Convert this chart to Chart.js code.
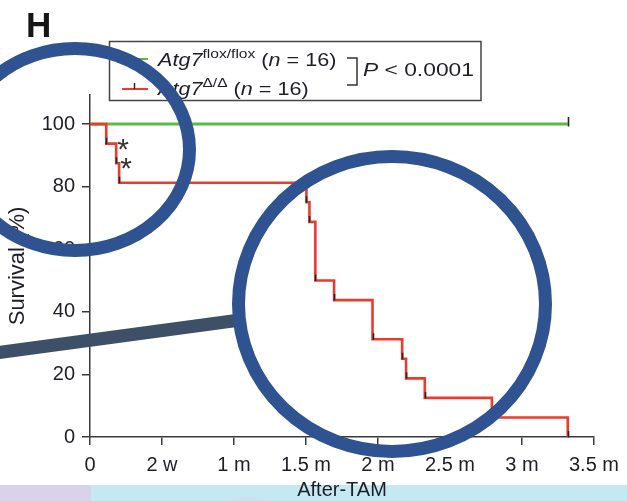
<!DOCTYPE html>
<html>
<head>
<meta charset="utf-8">
<title>Atg7 survival</title>
<script src="https://cdn.jsdelivr.net/npm/chart.js@4.4.1/dist/chart.umd.min.js"></script>
<style>
  html, body { margin: 0; padding: 0; background: #fff; }
  canvas { display: block; }
</style>
</head>
<body>
<canvas id="km" width="627" height="501"></canvas>
<script>
(function () {
  "use strict";

  // Time after TAM in months (0.5 m == 2 w), Kaplan-Meier steps
  var deltaMonths = [0, 0.113, 0.182, 0.202, 1.503, 1.524, 1.565, 1.695, 1.962, 2.168, 2.195, 2.325, 2.791, 3.318];
  var deltaSurvival = [100, 93.75, 87.5, 81.25, 75, 68.75, 50, 43.75, 31.25, 25, 18.75, 12.5, 6.25, 0];
  var floxMonths = [0, 3.318];
  var floxSurvival = [100, 100];

  var xTicks = [0, 0.5, 1, 1.5, 2, 2.5, 3, 3.5];
  var xTickLabels = ['0', '2 w', '1 m', '1.5 m', '2 m', '2.5 m', '3 m', '3.5 m'];
  var yTicks = [0, 20, 40, 60, 80, 100];

  // steps that get an asterisk next to them
  var starredSteps = [2, 3];

  var RED = '#ee3a2a';
  var GREEN = '#5cb947';
  var AXIS = '#3a3a3a';
  var TEXT = '#1e1e26';
  var FONT = '"Liberation Sans", Arial, Helvetica, sans-serif';

  Chart.defaults.font.family = FONT;

  function pts(xs, ys) {
    return xs.map(function (x, i) { return { x: x, y: ys[i] }; });
  }

  // draws a row of text pieces, slightly stretched horizontally like the figure
  function textRun(ctx, x, y, pieces, stretch) {
    ctx.save();
    ctx.translate(x, y);
    ctx.scale(stretch, 1);
    ctx.textBaseline = 'alphabetic';
    ctx.textAlign = 'left';
    ctx.fillStyle = TEXT;
    var cx = 0;
    pieces.forEach(function (p) {
      ctx.font = (p.italic ? 'italic ' : '') + p.size + 'px ' + FONT;
      ctx.fillText(p.text, cx, p.dy || 0);
      cx += ctx.measureText(p.text).width;
    });
    ctx.restore();
  }

  var kmDecor = {
    id: 'kmDecor',
    beforeDraw: function (chart) {
      var ctx = chart.ctx;
      ctx.save();
      ctx.fillStyle = '#ffffff';
      ctx.fillRect(0, 0, chart.width, chart.height);
      // coloured strip of the slide underneath
      ctx.beginPath();
      ctx.rect(0, 485, chart.width, chart.height - 485);
      ctx.clip();
      ctx.fillStyle = '#c4e9f2';
      ctx.fillRect(0, 485, chart.width, chart.height - 485);
      ctx.fillStyle = '#d1def0';
      ctx.beginPath();
      ctx.arc(250, 560, 63, 0, Math.PI * 2);
      ctx.fill();
      ctx.fillStyle = '#d8d2ea';
      ctx.fillRect(0, 485, 91, chart.height - 485);
      ctx.restore();
    },
    afterDatasetsDraw: function (chart) {
      var ctx = chart.ctx;
      var xs = chart.scales.x, ys = chart.scales.y;
      ctx.save();
      ctx.strokeStyle = '#262626';
      ctx.lineWidth = 1.6;
      ctx.beginPath();
      for (var i = 1; i < deltaMonths.length; i++) {
        var px = Math.round(xs.getPixelForValue(deltaMonths[i])) + 0.5;
        var py = ys.getPixelForValue(deltaSurvival[i]);
        ctx.moveTo(px, py + 0.5);
        ctx.lineTo(px, py - 6);
      }
      var ex = Math.round(xs.getPixelForValue(floxMonths[1])) + 0.5;
      var ey = ys.getPixelForValue(floxSurvival[1]);
      ctx.moveTo(ex, ey + 2.5);
      ctx.lineTo(ex, ey - 7);
      ctx.stroke();

      ctx.fillStyle = '#333';
      ctx.font = '30px ' + FONT;
      ctx.textAlign = 'center';
      ctx.textBaseline = 'alphabetic';
      starredSteps.forEach(function (k) {
        var sx = xs.getPixelForValue(deltaMonths[k]) + 7;
        var sy = ys.getPixelForValue(deltaSurvival[k - 1]) - 2;
        ctx.fillText('*', sx, sy + 17);
      });
      ctx.restore();
    },
    afterDraw: function (chart) {
      var ctx = chart.ctx;
      ctx.save();

      // panel letter
      ctx.fillStyle = '#161616';
      ctx.font = 'bold 35px ' + FONT;
      ctx.textBaseline = 'alphabetic';
      ctx.fillText('H', 26, 37);

      // legend box
      ctx.strokeStyle = '#444';
      ctx.lineWidth = 1.5;
      ctx.strokeRect(109.5, 41.5, 371.5, 59);

      ctx.lineWidth = 2;
      ctx.strokeStyle = GREEN;
      ctx.beginPath(); ctx.moveTo(122, 59); ctx.lineTo(148, 59); ctx.stroke();
      ctx.strokeStyle = RED;
      ctx.beginPath(); ctx.moveTo(122, 89); ctx.lineTo(148, 89); ctx.stroke();
      ctx.strokeStyle = '#262626';
      ctx.lineWidth = 1.5;
      ctx.beginPath(); ctx.moveTo(134.5, 83); ctx.lineTo(134.5, 89); ctx.stroke();

      textRun(ctx, 158, 66, [
        { text: 'Atg7', italic: true, size: 18 },
        { text: 'flox/flox', size: 13, dy: -8 },
        { text: ' (', size: 18 },
        { text: 'n', italic: true, size: 18 },
        { text: ' = 16)', size: 18 }
      ], 1.2);
      textRun(ctx, 158, 95, [
        { text: 'Atg7', italic: true, size: 18 },
        { text: '\u0394/\u0394', size: 13, dy: -8 },
        { text: ' (', size: 18 },
        { text: 'n', italic: true, size: 18 },
        { text: ' = 16)', size: 18 }
      ], 1.2);

      ctx.strokeStyle = '#333';
      ctx.lineWidth = 1.5;
      ctx.beginPath();
      ctx.moveTo(347, 58); ctx.lineTo(357, 58); ctx.lineTo(357, 85); ctx.lineTo(347, 85);
      ctx.stroke();
      textRun(ctx, 363, 76, [
        { text: 'P', italic: true, size: 19 },
        { text: ' < 0.0001', size: 19 }
      ], 1.2);

      // highlight marks drawn over the figure
      ctx.lineCap = 'butt';
      ctx.strokeStyle = '#3e5068';
      ctx.lineWidth = 13;
      ctx.beginPath(); ctx.moveTo(-5, 353); ctx.lineTo(240, 320); ctx.stroke();

      ctx.strokeStyle = '#2f5391';
      ctx.lineWidth = 13;
      ctx.beginPath(); ctx.ellipse(392, 304, 153.5, 147.5, 0, 0, Math.PI * 2); ctx.stroke();
      ctx.beginPath(); ctx.ellipse(75, 149.5, 114.5, 101, 0, 0, Math.PI * 2); ctx.stroke();

      ctx.restore();
    }
  };

  new Chart(document.getElementById('km'), {
    type: 'line',
    data: {
      datasets: [
        {
          label: 'Atg7 \u0394/\u0394',
          data: pts(deltaMonths, deltaSurvival),
          stepped: 'before',
          borderColor: RED,
          borderWidth: 2.6,
          pointRadius: 0,
          fill: false
        },
        {
          label: 'Atg7 flox/flox',
          data: pts(floxMonths, floxSurvival),
          borderColor: GREEN,
          borderWidth: 3,
          pointRadius: 0,
          fill: false
        }
      ]
    },
    options: {
      responsive: false,
      devicePixelRatio: 1,
      animation: false,
      layout: { padding: { top: 95, right: 27, bottom: 0, left: 0 } },
      plugins: { legend: { display: false }, tooltip: { enabled: false } },
      scales: {
        x: {
          type: 'linear',
          min: 0,
          max: 3.5,
          afterBuildTicks: function (s) { s.ticks = xTicks.map(function (v) { return { value: v }; }); },
          afterFit: function (s) { s.height = 64; },
          ticks: {
            color: TEXT,
            font: { size: 20 },
            padding: 8,
            maxRotation: 0,
            autoSkip: false,
            callback: function (v, i) { return xTickLabels[i]; }
          },
          grid: { drawOnChartArea: false, tickLength: 8, color: AXIS, lineWidth: 1.5 },
          border: { color: AXIS, width: 1.5 },
          title: { display: true, text: 'After-TAM', color: TEXT, font: { size: 20, lineHeight: 1.1 }, padding: 0 }
        },
        y: {
          type: 'linear',
          min: 0,
          max: 109.3,
          afterBuildTicks: function (s) { s.ticks = yTicks.map(function (v) { return { value: v }; }); },
          afterFit: function (s) { s.width = 90; },
          ticks: { color: TEXT, font: { size: 20 }, padding: 7 },
          grid: { drawOnChartArea: false, tickLength: 8, color: AXIS, lineWidth: 1.5 },
          border: { color: AXIS, width: 1.5 },
          title: { display: true, text: 'Survival (%)', color: TEXT, font: { size: 22, lineHeight: 1.1 }, padding: { top: 6, bottom: 0 } }
        }
      }
    },
    plugins: [kmDecor]
  });
})();
</script>
</body>
</html>
